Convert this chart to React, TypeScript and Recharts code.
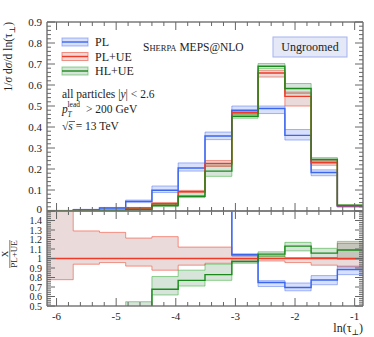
import { ComposedChart, Area, Line, XAxis, YAxis } from 'recharts'

// bin edges in ln(tau_perp)
const binEdges = [-6.16, -5.72, -5.28, -4.84, -4.4, -3.96, -3.51, -3.06, -2.62, -2.17, -1.73, -1.29, -0.86]

// main panel: 1/sigma dsigma/dln(tau)
const plVals = [0.002, 0.006, 0.014, 0.046, 0.099, 0.205, 0.357, 0.48, 0.488, 0.36, 0.183, 0.022]
const plLo = [0.001, 0.004, 0.011, 0.04, 0.088, 0.19, 0.34, 0.464, 0.464, 0.338, 0.168, 0.018]
const plHi = [0.003, 0.008, 0.017, 0.052, 0.119, 0.229, 0.376, 0.5, 0.5, 0.388, 0.196, 0.026]

const pluVals = [0.001, 0.002, 0.004, 0.014, 0.035, 0.092, 0.226, 0.469, 0.657, 0.546, 0.23, 0.025]
const pluLo = [0.0005, 0.0015, 0.003, 0.012, 0.031, 0.086, 0.212, 0.462, 0.638, 0.5, 0.218, 0.022]
const pluHi = [0.0015, 0.0025, 0.005, 0.017, 0.04, 0.098, 0.24, 0.476, 0.67, 0.566, 0.242, 0.028]

const hluVals = [0.0003, 0.0008, 0.002, 0.007, 0.026, 0.07, 0.19, 0.451, 0.689, 0.583, 0.245, 0.027]
const hluLo = [0, 0.0005, 0.0015, 0.005, 0.022, 0.064, 0.165, 0.442, 0.678, 0.559, 0.236, 0.024]
const hluHi = [0.0005, 0.001, 0.0025, 0.009, 0.03, 0.076, 0.218, 0.46, 0.702, 0.607, 0.254, 0.03]

// ratio panel: X / PL+UE
const rPlVals = [2.0, 3.0, 3.5, 3.3, 2.8, 2.2, 1.58, 1.04, 0.748, 0.695, 0.774, 0.885]
const rPlLo = [1.9, 2.8, 3.3, 3.1, 2.6, 2.0, 1.52, 1.025, 0.705, 0.66, 0.724, 0.83]
const rPlHi = [2.1, 3.2, 3.7, 3.5, 3.0, 2.4, 1.64, 1.05, 0.767, 0.742, 0.82, 0.92]

const rPluVals = [1, 1, 1, 1, 1, 1, 1, 1, 1, 1, 1, 1]
const rPluLo = [0.777, 0.94, 0.957, 0.92, 0.877, 0.93, 0.95, 0.97, 0.974, 0.957, 0.93, 0.91]
const rPluHi = [1.6, 1.29, 1.275, 1.215, 1.23, 1.12, 1.12, 1.03, 1.028, 1.01, 1.01, 1.16]

const rHluVals = [0.2, 0.25, 0.35, 0.48, 0.677, 0.77, 0.83, 0.968, 1.046, 1.13, 1.057, 1.09]
const rHluLo = [0.1, 0.15, 0.3, 0.42, 0.616, 0.71, 0.77, 0.95, 1.02, 1.08, 1.01, 0.99]
const rHluHi = [0.3, 0.35, 0.45, 0.545, 0.81, 0.877, 0.94, 1.0, 1.07, 1.17, 1.107, 1.18]

const series = [
  { key: 'pl', name: 'PL', color: '#3a66ee', fill: 'rgba(60,100,235,0.2)', edge: 'rgba(60,100,240,0.45)' },
  { key: 'plu', name: 'PL+UE', color: '#ee3a26', fill: 'rgba(150,70,70,0.2)', edge: 'rgba(240,90,70,0.65)' },
  { key: 'hlu', name: 'HL+UE', color: '#1a8a1a', fill: 'rgba(50,120,70,0.2)', edge: 'rgba(40,170,40,0.5)' },
]

const FONT = "'Liberation Serif', 'DejaVu Serif', serif"
const AX = '#7a7a7a'
const TK = '#666'
const X_DOMAIN: [number, number] = [-6.16, -0.86]

function stepRows(sets: Record<string, number[][]>) {
  return binEdges.map((x, i) => {
    const k = Math.min(i, binEdges.length - 2)
    const row: any = { x }
    for (const key of Object.keys(sets)) {
      const [v, lo, hi] = sets[key]
      row[key] = v[k]
      row[key + 'Band'] = [lo[k], hi[k]]
    }
    return row
  })
}

const topData = stepRows({ pl: [plVals, plLo, plHi], plu: [pluVals, pluLo, pluHi], hlu: [hluVals, hluLo, hluHi] })
const ratioData = stepRows({ pl: [rPlVals, rPlLo, rPlHi], plu: [rPluVals, rPluLo, rPluHi], hlu: [rHluVals, rHluLo, rHluHi] })

function range(a: number, b: number, step: number) {
  const out: number[] = []
  for (let i = 0; a + i * step <= b + 1e-9; i++) out.push(+(a + i * step).toFixed(4))
  return out
}
const onStep = (v: number, step: number) => Math.abs(v / step - Math.round(v / step)) < 1e-6
const fmt = (v: number) => (onStep(v, 1) ? String(Math.round(v)) : v.toFixed(1))

const xTicks = range(-6, -1, 0.2)
const yTopTicks = range(0, 0.9, 0.02)
const yRatioTicks = range(0.5, 1.5, 0.02)

const xTick = (dir: number, label: boolean) => (p: any) => {
  const v = p.payload.value
  const major = onStep(v, 1)
  const len = major ? 8 : 4
  return (
    <g>
      <line x1={p.x} x2={p.x} y1={p.y} y2={p.y + dir * len} stroke={TK} strokeWidth={1} />
      {label && major && (
        <text x={p.x} y={p.y + 14} textAnchor="middle" fontSize={11} fontFamily={FONT} fill="#222">{fmt(v)}</text>
      )}
    </g>
  )
}

const yTick = (dir: number, maxLabel: number, fs: number, lift: number) => (p: any) => {
  const v = p.payload.value
  const major = onStep(v, 0.1)
  const len = major ? 8 : 4
  const ly = v === 0 ? p.y - lift : p.y
  return (
    <g>
      <line x1={p.x} x2={p.x + dir * len} y1={p.y} y2={p.y} stroke={TK} strokeWidth={1} />
      {dir > 0 && major && v <= maxLabel + 1e-6 && (
        <text x={p.x - 5} y={ly} dy="0.35em" textAnchor="end" fontSize={fs} fontFamily={FONT} fill="#222">{fmt(v)}</text>
      )}
    </g>
  )
}

function Panel({ data, width, height, margin, yDomain, yTicks, maxLabel, xLabels, fs, lift }: any) {
  const axisLine = { stroke: AX, strokeWidth: 1.5 }
  return (
    <ComposedChart width={width} height={height} data={data} margin={margin}>
      <XAxis xAxisId="b" dataKey="x" type="number" domain={X_DOMAIN} allowDataOverflow ticks={xTicks} interval={0}
        height={1} tickSize={0} tickMargin={0} tickLine={false} axisLine={axisLine} tick={xTick(-1, xLabels)} />
      <XAxis xAxisId="t" orientation="top" dataKey="x" type="number" domain={X_DOMAIN} allowDataOverflow ticks={xTicks}
        interval={0} height={1} tickSize={0} tickMargin={0} tickLine={false} axisLine={axisLine} tick={xTick(1, false)} />
      <YAxis yAxisId="l" type="number" domain={yDomain} allowDataOverflow ticks={yTicks} interval={0} width={1}
        tickSize={0} tickMargin={0} tickLine={false} axisLine={axisLine} tick={yTick(1, maxLabel, fs, lift)} />
      <YAxis yAxisId="r" orientation="right" type="number" domain={yDomain} allowDataOverflow ticks={yTicks} interval={0}
        width={1} tickSize={0} tickMargin={0} tickLine={false} axisLine={axisLine} tick={yTick(-1, maxLabel, fs, lift)} />
      {series.flatMap(s => [
        <Area key={s.key + 'b'} xAxisId="b" yAxisId="l" dataKey={s.key + 'Band'} type="stepAfter" fill={s.fill}
          fillOpacity={1} stroke={s.edge} strokeWidth={1} dot={false} activeDot={false} isAnimationActive={false} />,
        <Line key={s.key + 'l'} xAxisId="b" yAxisId="l" dataKey={s.key} type="stepAfter" stroke={s.color}
          strokeWidth={1.4} dot={false} activeDot={false} isAnimationActive={false} />,
      ])}
    </ComposedChart>
  )
}

export default function App() {
  const t = { fontFamily: FONT, fill: '#222' }
  return (
    <div style={{ position: 'absolute', left: 0, top: 0, width: 374, height: 337, background: '#fff' }}>
      <div style={{ position: 'absolute', left: 0, top: 210 }}>
        <Panel data={ratioData} width={374} height={126} margin={{ top: 0, right: 10, bottom: 29, left: 46 }}
          yDomain={[0.5, 1.5]} yTicks={yRatioTicks} maxLabel={1.4} xLabels={true} fs={10} lift={0} />
      </div>
      <div style={{ position: 'absolute', left: 0, top: 0 }}>
        <Panel data={topData} width={374} height={218} margin={{ top: 21, right: 10, bottom: 6, left: 46 }}
          yDomain={[0, 0.9]} yTicks={yTopTicks} maxLabel={0.9} xLabels={false} fs={11} lift={2} />
      </div>
      <svg width={374} height={337} style={{ position: 'absolute', left: 0, top: 0, pointerEvents: 'none' }}>
        {/* y titles */}
        <text transform="rotate(-90)" x={-22} y={12} textAnchor="end" fontSize={11.5} {...t}>
          1/<tspan fontStyle="italic">σ</tspan> d<tspan fontStyle="italic">σ</tspan>/d ln(τ<tspan fontSize={8} dy={3}>⊥</tspan><tspan dy={-3}>)</tspan>
        </text>
        <g transform="translate(0,254) rotate(-90)">
          <text x={0} y={8} textAnchor="middle" fontSize={9} {...t}>X</text>
          <line x1={-14} x2={14} y1={9.8} y2={9.8} stroke="#222" strokeWidth={0.6} />
          <text x={0} y={17} textAnchor="middle" fontSize={9} {...t}>PL+UE</text>
        </g>
        {/* x title */}
        <text x={363} y={332} textAnchor="end" fontSize={12} {...t}>
          ln(τ<tspan fontSize={8} dy={3}>⊥</tspan><tspan dy={-3}>)</tspan>
        </text>
        {/* generator label */}
        <text x={143} y={51} fontSize={11.5} {...t}>
          S<tspan fontSize={8.5}>HERPA</tspan> MEPS@NLO
        </text>
        <rect x={273} y={37} width={74} height={20} fill="#e4e8f7" stroke="#a3b3ee" strokeWidth={1} />
        <text x={310} y={51} textAnchor="middle" fontSize={12} {...t}>Ungroomed</text>
        {/* legend */}
        {series.map((s, i) => {
          const cy = 42 + i * 14.5
          return (
            <g key={s.key}>
              <rect x={62} y={cy - 4} width={26} height={8} fill={s.fill} stroke={s.edge} strokeWidth={1} />
              <line x1={62} x2={88} y1={cy} y2={cy} stroke={s.color} strokeWidth={1.4} />
              <text x={95} y={cy + 4} fontSize={12} {...t}>{s.name}</text>
            </g>
          )
        })}
        {/* cuts */}
        <text x={62} y={98} fontSize={11.5} {...t}>
          all particles |<tspan fontStyle="italic">y</tspan>| &lt; 2.6
        </text>
        <text x={62} y={113} fontSize={11.5} fontStyle="italic" {...t}>p</text>
        <text x={67.5} y={107} fontSize={7.5} {...t}>lead</text>
        <text x={67.5} y={117} fontSize={7.5} fontStyle="italic" {...t}>T</text>
        <text x={86} y={113} fontSize={11.5} {...t}>&gt; 200 GeV</text>
        <text x={62} y={130} fontSize={11.5} {...t}>
          √<tspan fontStyle="italic">s</tspan> = 13 TeV
        </text>
        <line x1={69} x2={75} y1={121.5} y2={121.5} stroke="#222" strokeWidth={0.7} />
      </svg>
    </div>
  )
}
